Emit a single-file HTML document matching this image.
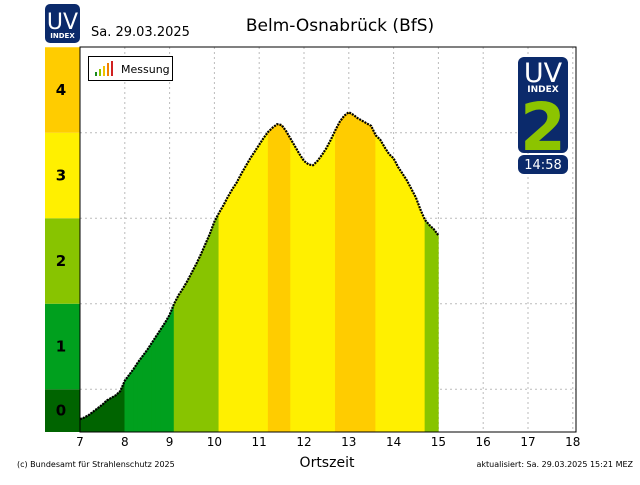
<!DOCTYPE html>
<html><head><meta charset="utf-8"><style>
body{margin:0;background:#fff;font-family:"Liberation Sans",sans-serif}
svg text{font-family:"DejaVu Sans","Liberation Sans",sans-serif}
</style></head><body>
<svg id="c" width="640" height="480" xmlns="http://www.w3.org/2000/svg">
<rect width="640" height="480" fill="#fff"/>
<g>
<rect x="45" y="4" width="35" height="39" rx="5" fill="#0b2a6b"/>
<text x="62.5" y="29" font-size="22" fill="#fff" text-anchor="middle">UV</text>
<text x="62.5" y="38" font-size="7" font-weight="bold" fill="#fff" text-anchor="middle">INDEX</text>
</g>
<text x="91" y="36" font-size="13">Sa. 29.03.2025</text>
<text x="340" y="31" font-size="17" text-anchor="middle">Belm-Osnabrück (BfS)</text>
<g id="bands"></g>
<g id="grid"></g>
<g id="marks"></g>
<rect x="80" y="47" width="496" height="385" fill="none" stroke="#000" stroke-width="1"/>
<g>
<rect x="88.5" y="56.5" width="84" height="24" fill="#fff" stroke="#000"/>
<rect x="95" y="72" width="2" height="4" fill="#1a8a1a"/><rect x="99" y="69" width="2" height="7" fill="#8cc400"/><rect x="103" y="66" width="2" height="10" fill="#f0c000"/><rect x="107" y="63" width="2" height="13" fill="#f08000"/><rect x="111" y="61" width="2" height="15" fill="#d02020"/>
<text x="121" y="73" font-size="11">Messung</text>
</g>
<g>
<rect x="518" y="57" width="50" height="96" rx="6" fill="#0b2a6b"/>
<text x="543" y="82" font-size="27" fill="#fff" text-anchor="middle">UV</text>
<text x="543" y="92" font-size="9" font-weight="bold" fill="#fff" text-anchor="middle">INDEX</text>
<text x="543" y="150" font-size="66" font-weight="bold" fill="#8cc400" text-anchor="middle">2</text>
<rect x="518" y="155" width="50" height="19" rx="6" fill="#0b2a6b"/>
<text x="543" y="169" font-size="13" fill="#fff" text-anchor="middle">14:58</text>
</g>
<text x="327" y="467" font-size="14" text-anchor="middle">Ortszeit</text>
<text x="17" y="467" font-size="8">(c) Bundesamt für Strahlenschutz 2025</text>
<text x="633" y="467" font-size="8" text-anchor="end">aktualisiert: Sa. 29.03.2025  15:21  MEZ</text>
<g id="xt"></g>
</svg>
<script>
const times=[];for(let i=0;i<=80;i++)times.push(+(7+i*0.1).toFixed(1));
const uvValues=[.15,.17,.2,.24,.28,.32,.37,.40,.43,.48,.6,.67,.74,.82,.89,.96,1.04,1.12,1.2,1.28,1.37,1.5,1.6,1.68,1.77,1.87,1.97,2.08,2.2,2.32,2.46,2.56,2.65,2.75,2.84,2.92,3.02,3.11,3.2,3.28,3.36,3.44,3.51,3.56,3.6,3.59,3.52,3.43,3.34,3.25,3.17,3.13,3.12,3.17,3.24,3.32,3.42,3.53,3.63,3.7,3.74,3.71,3.67,3.64,3.61,3.58,3.47,3.42,3.33,3.25,3.2,3.1,3.02,2.94,2.84,2.74,2.6,2.48,2.42,2.37,2.3];
const xTicks=[7,8,9,10,11,12,13,14,15,16,17,18];
const yLabels=[0,1,2,3,4];
const bandColors=["#006400","#00a01e","#88c400","#fff000","#ffcc00"];
const NS="http://www.w3.org/2000/svg";
const X=h=>80+(h-7)*44.8, Y=v=>432-v*85.5;
function mk(t,a,p){const e=document.createElementNS(NS,t);for(const k in a)e.setAttribute(k,a[k]);p.appendChild(e);return e;}
const band=v=>Math.max(0,Math.min(4,Math.round(v)));
const B=document.getElementById('bands');
yLabels.forEach(l=>{
 const top=Y(Math.min(4.5,l+0.5)),bot=Y(Math.max(0,l-0.5));
 const r=mk('rect',{x:45,y:top,width:35,height:bot-top,fill:bandColors[l]},B);
 
 
 const t=mk('text',{x:61,y:(top+bot)/2+5,'font-size':15,'font-weight':'bold','text-anchor':'middle',fill:'#000'},B);
 t.textContent=l;
 
 
});
const G=document.getElementById('grid');
[0.5,1.5,2.5,3.5].forEach(v=>{
 const l=mk('line',{x1:80,x2:576,y1:Y(v),y2:Y(v),stroke:'#bbb','stroke-dasharray':'2,3'},G);
 
 
});
const XT=document.getElementById('xt');
xTicks.forEach(h=>{
 const l=mk('line',{x1:X(h),x2:X(h),y1:47,y2:432,stroke:'#bbb','stroke-dasharray':'2,3'},G);
 
 
 const t=mk('text',{x:X(h),y:446,'font-size':12,'text-anchor':'middle'},XT);
 t.textContent=h;
 
 
});
const M=document.getElementById('marks');
for(let i=0;i<times.length-1;i++){
 const x0=X(times[i]),x1=X(times[i+1]),y0=Y(uvValues[i]),y1=Y(uvValues[i+1]);
 const pts=[x0+',432',x0+','+y0,x1+','+y1,(x1)+',432'].join(' ');
 const p=mk('polygon',{points:pts,fill:bandColors[band(uvValues[i])],stroke:bandColors[band(uvValues[i])],'stroke-width':0.6},M);
 
 
}
const pts=times.map((h,i)=>X(h)+','+Y(uvValues[i])).join(' ');
const pl=mk('polyline',{points:pts,fill:'none',stroke:'#000','stroke-width':2.2,'stroke-dasharray':'2,1'},M);


</script>
</body></html>
